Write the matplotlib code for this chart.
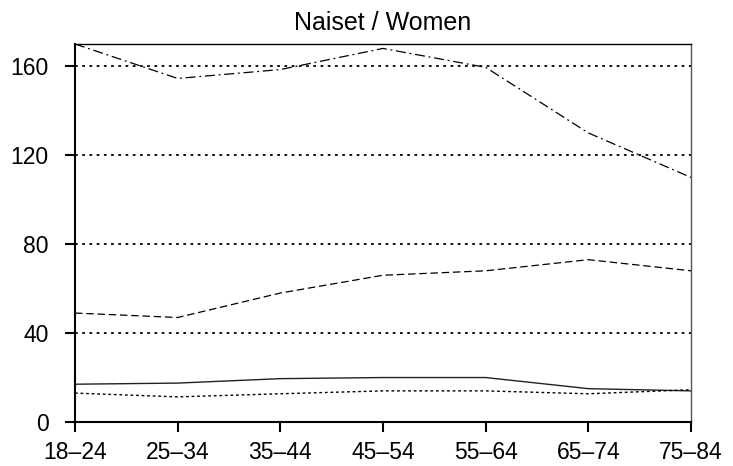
import numpy as np
import matplotlib.pyplot as plt

plt.rcParams['font.family'] = ['Liberation Sans', 'DejaVu Sans']

groups = ['18–24', '25–34', '35–44', '45–54', '55–64', '65–74', '75–84']
dashdot = [170, 154.5, 158.5, 168, 159.5, 130, 110]
dashed = [49, 47, 58, 66, 68, 73, 68]
solid = [17, 17.5, 19.5, 20, 20, 15, 14]
dotted = [13, 11.3, 12.7, 14, 14, 12.7, 14.5]

fig = plt.figure(figsize=(7.33, 4.66), dpi=100)
ax = fig.add_axes([0.1023, 0.0944, 0.8404, 0.8112])

x = np.arange(len(groups))
for yv in [40, 80, 120, 160]:
    ax.axhline(yv, color='black', lw=1.3, ls=(0, (1.5, 2.5)), zorder=1)

ax.plot(x, dashdot, color='black', lw=0.9, ls=(0, (8, 3, 1.5, 3)), zorder=3)
ax.plot(x, dashed, color='black', lw=0.9, ls=(0, (6, 3)), zorder=3)
ax.plot(x, solid, color='#222222', lw=1.0, ls='-', zorder=3)
ax.plot(x, dotted, color='black', lw=1.0, ls=(0, (2, 2)), zorder=3)

ax.set_xlim(0, 6)
ax.set_ylim(0, 170)
ax.set_yticks([0, 40, 80, 120, 160])
ax.set_xticks(x)
ax.set_xticklabels(groups)
ax.tick_params(axis='both', labelsize=16.5, length=7, width=1.5, direction='out')
ax.tick_params(axis='x', pad=7)
ax.tick_params(axis='y', pad=12)
for s in ['left', 'bottom']:
    ax.spines[s].set_linewidth(1.5)
ax.spines['top'].set_linewidth(1.0)
ax.spines['right'].set_linewidth(1.0)
ax.spines['right'].set_color('#555555')
ax.set_title('Naiset / Women', fontsize=18, pad=10)

fig.savefig('out.png', dpi=100)
